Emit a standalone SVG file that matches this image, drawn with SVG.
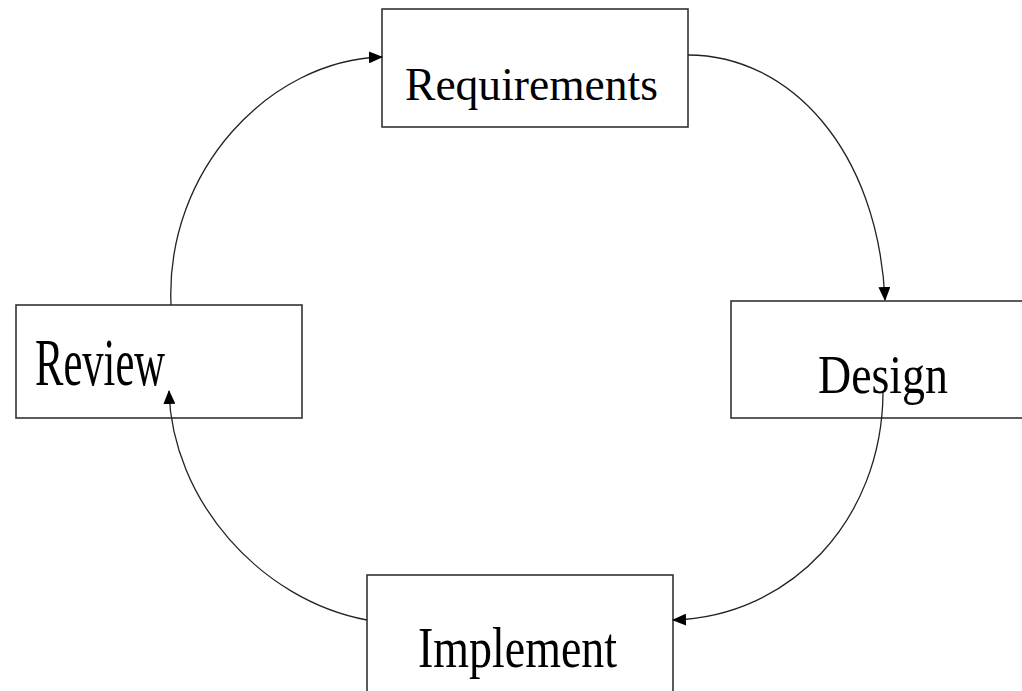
<svg xmlns="http://www.w3.org/2000/svg" width="1022" height="691" viewBox="0 0 1022 691">
<style>
.box{fill:#fff;stroke:#333;stroke-width:1.6}
.lbl{font-family:"Liberation Serif","Times New Roman",serif;fill:#000}
.conn{fill:none;stroke:#222;stroke-width:1.3}
</style>
<defs>
<marker id="arr" markerUnits="userSpaceOnUse" markerWidth="14" markerHeight="12" refX="13" refY="6" orient="auto">
<path d="M0,0 L14,6 L0,12 Z" fill="#000"/>
</marker>
</defs>
<rect width="1022" height="691" fill="#fff"/>
<g id="requirements">
<rect class="box" x="382" y="9" width="306" height="118"/>
<text class="lbl" x="405" y="100" font-size="47" textLength="253" lengthAdjust="spacingAndGlyphs">Requirements</text>
</g>
<g id="design">
<rect class="box" x="731" y="301" width="310" height="117"/>
<text class="lbl" x="818" y="393" font-size="54" textLength="130" lengthAdjust="spacingAndGlyphs">Design</text>
</g>
<g id="review">
<rect class="box" x="16" y="305" width="286" height="113"/>
<text class="lbl" x="35" y="385" font-size="68" textLength="130" lengthAdjust="spacingAndGlyphs">Review</text>
</g>
<g id="implement">
<rect class="box" x="367" y="575" width="306" height="130"/>
<text class="lbl" x="418" y="667" font-size="56" textLength="199" lengthAdjust="spacingAndGlyphs">Implement</text>
</g>
<g id="connectors">
<path class="conn" d="M688,55 C790,55 878,150 885,300" marker-end="url(#arr)"/>
<path class="conn" d="M883,393 C882,520 790,617 673,620" marker-end="url(#arr)"/>
<path class="conn" d="M367,620 C260,600 172,500 169,391" marker-end="url(#arr)"/>
<path class="conn" d="M171,305 C165,170 270,60 382,57" marker-end="url(#arr)"/>
</g>
</svg>
